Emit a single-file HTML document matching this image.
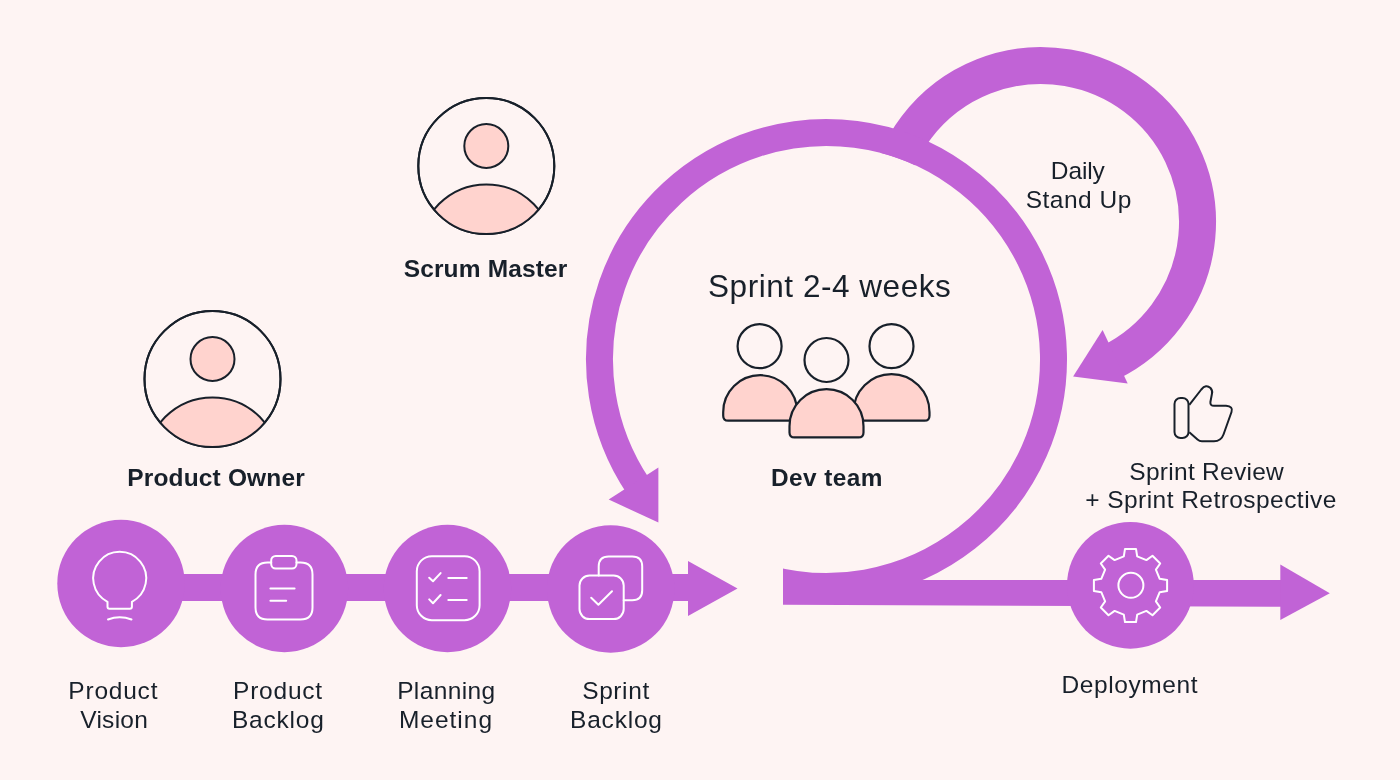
<!DOCTYPE html>
<html><head><meta charset="utf-8">
<style>
html,body{margin:0;padding:0;background:#FEF4F3;width:1400px;height:780px;overflow:hidden}
svg{display:block;will-change:transform}
text{font-family:"Liberation Sans",sans-serif;fill:#18202A}
.b{font-weight:bold}
</style></head><body>
<svg width="1400" height="780" viewBox="0 0 1400 780">
<defs>
<clipPath id="cpo"><circle cx="212.5" cy="379" r="68"/></clipPath>
<clipPath id="csm"><circle cx="486.3" cy="166" r="68"/></clipPath>
<clipPath id="cring"><path d="M0 0H1400V780H0Z M0 540H783V780H0Z" clip-rule="evenodd"/></clipPath>
</defs>
<rect width="1400" height="780" fill="#FEF4F3"/>

<!-- Product Owner avatar -->
<g stroke="#18202A" stroke-width="2">
<circle cx="212.5" cy="379" r="68" fill="#FEF4F3"/>
<g clip-path="url(#cpo)"><circle cx="212.5" cy="464.4" r="67" fill="#FFD3CE"/></g>
<circle cx="212.5" cy="379" r="68" fill="none"/>
<circle cx="212.5" cy="359" r="22" fill="#FFD3CE"/>
</g>
<!-- Scrum Master avatar -->
<g stroke="#18202A" stroke-width="2">
<circle cx="486.3" cy="166" r="68" fill="#FEF4F3"/>
<g clip-path="url(#csm)"><circle cx="486.3" cy="251.4" r="67" fill="#FFD3CE"/></g>
<circle cx="486.3" cy="166" r="68" fill="none"/>
<circle cx="486.3" cy="146" r="22" fill="#FFD3CE"/>
</g>
<text class="b" x="485.6" y="277" font-size="24.5" text-anchor="middle" letter-spacing="0.15">Scrum Master</text>
<text class="b" x="216.1" y="485.7" font-size="24.5" text-anchor="middle" letter-spacing="0.17">Product Owner</text>

<!-- bottom left row -->
<g fill="#C163D6">
<rect x="121" y="574" width="568" height="27"/>
<path d="M688 561 L737.5 588.5 L688 616Z"/>
<circle cx="121" cy="583.5" r="63.7"/>
<circle cx="284.4" cy="588.5" r="63.7"/>
<circle cx="447.5" cy="588.5" r="63.7"/>
<circle cx="610.7" cy="589" r="63.7"/>
</g>

<!-- small loop -->
<g fill="#C163D6">
<path d="M886.9 194.8 A156.5 156.5 0 1 1 1109.6 362.66" fill="none" stroke="#C163D6" stroke-width="37"/>
<path d="M1102.6 330 L1073.1 376.6 L1127.7 383.5Z"/>
</g>
<circle cx="826.5" cy="359.5" r="213.5" fill="#FEF4F3"/>
<!-- big ring -->
<g clip-path="url(#cring)">
<path d="M638.31 486.44 A227 227 0 1 1 767.75 578.77" fill="none" stroke="#C163D6" stroke-width="27"/>
</g>
<path d="M658.4 467.6 L608.7 499.6 L658.4 522.5Z" fill="#C163D6"/>
<path d="M783 580 H1281 V606.7 L783 604.8Z" fill="#C163D6"/>
<path d="M1280.3 564.6 L1329.8 593.3 L1280.3 620Z" fill="#C163D6"/>
<circle cx="1130.4" cy="585.3" r="63.4" fill="#C163D6"/>

<!-- icons in circles -->
<g fill="none" stroke="#fff" stroke-width="2" stroke-linecap="round" stroke-linejoin="round">
<!-- bulb -->
<path d="M107.5 601.8 A26.5 26.5 0 1 1 131.9 601.8 V606.8 Q131.9 608.8 129.9 608.8 H109.5 Q107.5 608.8 107.5 606.8 Z"/>
<path d="M108 619.5 Q119.7 614.8 131.5 619.5"/>
<!-- clipboard -->
<path d="M271.2 562.5 H267.5 Q255.5 562.5 255.5 574.5 V607.5 Q255.5 619.5 267.5 619.5 H300.5 Q312.5 619.5 312.5 607.5 V574.5 Q312.5 562.5 300.5 562.5 H296.5"/>
<rect x="271.2" y="556" width="25.3" height="12.5" rx="4.5"/>
<path d="M270.4 588.5 H294.6 M270.4 600.8 H286.2"/>
<!-- planning -->
<rect x="416.8" y="556.2" width="62.8" height="64" rx="15"/>
<path d="M429.2 577.7 L433 581.2 L440.6 573.1 M448.3 577.9 H466.7 M429.2 599.4 L433 603.3 L440.6 595 M448.3 600 H466.7"/>
<!-- sprint backlog -->
<path d="M598.7 575.6 V566.5 Q598.7 556.5 608.7 556.5 H632.2 Q642.2 556.5 642.2 566.5 V590.2 Q642.2 600.2 632.2 600.2 H623.7"/>
<rect x="579.5" y="575.6" width="44.2" height="43.5" rx="10"/>
<path d="M591.2 597.7 L598.4 604.7 L612 591.3"/>
<!-- gear -->
<path d="M1123.8 556.3 L1125.0 548.9 L1136.0 548.9 L1137.2 556.3 L1146.4 560.1 L1152.5 555.8 L1160.2 563.5 L1155.9 569.6 L1159.7 578.8 L1167.1 580.0 L1167.1 591.0 L1159.7 592.2 L1155.9 601.4 L1160.2 607.5 L1152.5 615.2 L1146.4 610.9 L1137.2 614.7 L1136.0 622.1 L1125.0 622.1 L1123.8 614.7 L1114.6 610.9 L1108.5 615.2 L1100.8 607.5 L1105.1 601.4 L1101.3 592.2 L1093.9 591.0 L1093.9 580.0 L1101.3 578.8 L1105.1 569.6 L1100.8 563.5 L1108.5 555.8 L1114.6 560.1Z"/>
<circle cx="1130.9" cy="585.3" r="12.5"/>
</g>

<!-- dev team -->
<g stroke="#18202A" stroke-width="2.2">
<circle cx="759.6" cy="346.2" r="22" fill="#FEF4F3"/>
<circle cx="891.5" cy="346.2" r="22" fill="#FEF4F3"/>
<path d="M723.2 412.2 A37 37 0 0 1 797.2 412.2 V415.7 Q797.2 420.7 792.2 420.7 H728.2 Q723.2 420.7 723.2 415.7 Z" fill="#FFD3CE"/>
<path d="M853.5 412.2 A38 38 0 0 1 929.5 412.2 V415.7 Q929.5 420.7 924.5 420.7 H858.5 Q853.5 420.7 853.5 415.7 Z" fill="#FFD3CE"/>
<circle cx="826.5" cy="360" r="22" fill="#FEF4F3"/>
<path d="M789.5 426.2 A37 37 0 0 1 863.5 426.2 V432.4 Q863.5 437.4 858.5 437.4 H794.5 Q789.5 437.4 789.5 432.4 Z" fill="#FFD3CE"/>
</g>

<!-- thumbs up -->
<g fill="none" stroke="#18202A" stroke-width="2" stroke-linejoin="round">
<rect x="1174.5" y="398" width="14" height="40" rx="6"/>
<path d="M1189.3 404.8 L1201.3 389.5 Q1206 383.8 1210.5 388 Q1213 391 1211.9 394 L1210.4 402 Q1210 405.8 1214 405.8 H1226 Q1233.5 406.5 1231.5 412 L1223.5 434.5 Q1221 441.3 1214 441.3 H1202 Q1199.5 441.3 1197.5 439.5 L1189.3 432.2"/>
</g>

<!-- texts -->
<text x="829.7" y="296.8" font-size="31.5" letter-spacing="0.54" text-anchor="middle">Sprint 2-4 weeks</text>
<text class="b" x="827" y="485.8" font-size="24.4" text-anchor="middle" letter-spacing="0.43">Dev team</text>
<text x="1077.8" y="179.3" font-size="24.5" text-anchor="middle" letter-spacing="-0.12">Daily</text>
<text x="1078.75" y="208" font-size="24.5" text-anchor="middle" letter-spacing="0.50">Stand Up</text>
<text x="1206.7" y="479.9" font-size="24.5" text-anchor="middle" letter-spacing="0.28">Sprint Review</text>
<text x="1211" y="508.2" font-size="24.5" text-anchor="middle" letter-spacing="0.45">+ Sprint Retrospective</text>
<text x="1129.8" y="692.8" font-size="24.5" text-anchor="middle" letter-spacing="0.58">Deployment</text>
<text x="113.3" y="699" font-size="24.5" text-anchor="middle" letter-spacing="0.78">Product</text>
<text x="114.2" y="728.2" font-size="24.5" text-anchor="middle" letter-spacing="0.28">Vision</text>
<text x="278" y="699" font-size="24.5" text-anchor="middle" letter-spacing="0.78">Product</text>
<text x="278.3" y="728.2" font-size="24.5" text-anchor="middle" letter-spacing="0.78">Backlog</text>
<text x="446.3" y="699" font-size="24.5" text-anchor="middle" letter-spacing="0.37">Planning</text>
<text x="446" y="728.2" font-size="24.5" text-anchor="middle" letter-spacing="1.00">Meeting</text>
<text x="616" y="699" font-size="24.5" text-anchor="middle" letter-spacing="0.60">Sprint</text>
<text x="616.4" y="728.2" font-size="24.5" text-anchor="middle" letter-spacing="0.78">Backlog</text>
</svg>
</body></html>
